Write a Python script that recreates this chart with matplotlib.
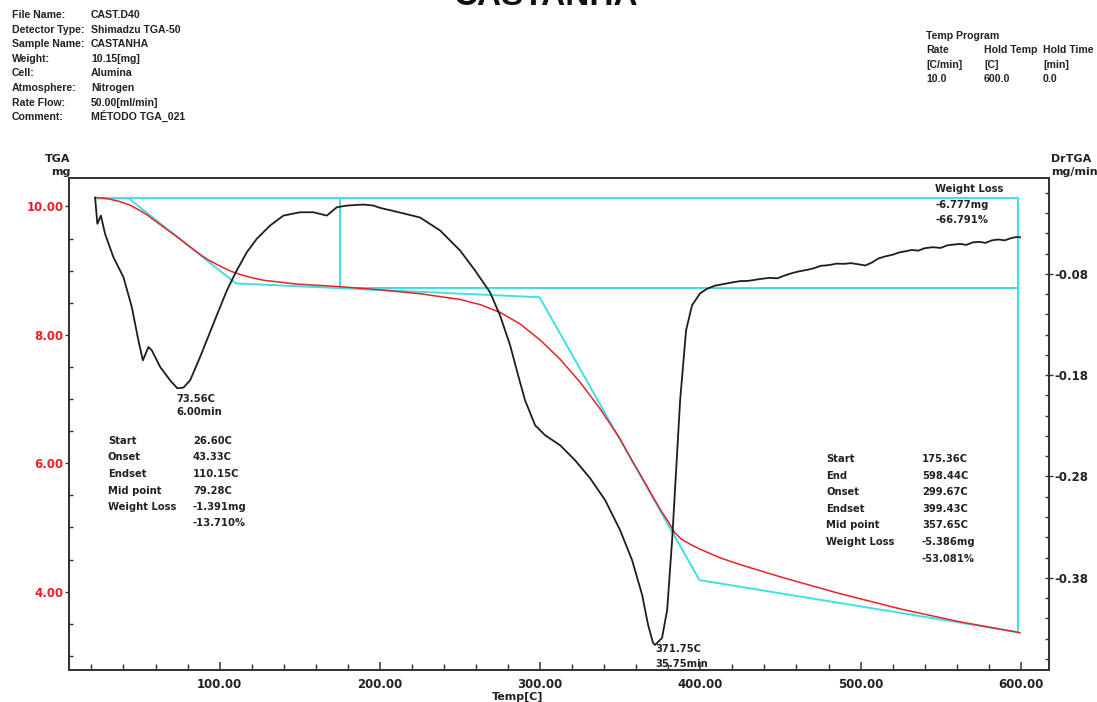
import matplotlib
matplotlib.use("Agg")
import matplotlib.pyplot as plt
from matplotlib.ticker import FixedLocator, MultipleLocator

# ---------------- data ----------------
# DrTGA (black) : temperature [C] and derivative [mg/min]
dr_temp = [22.3, 23.7, 25.9, 28.5, 33.7, 40.0, 45.2, 49.3, 52.1, 55.6, 57.7, 62.9, 69.1,
           73.6, 77.4, 81.6, 87.8, 96.1, 104.5, 110.7, 117.0, 123.2, 131.5, 139.8, 150.2,
           158.5, 166.9, 173.1, 179.4, 189.7, 196.0, 200.2, 212.6, 225.1, 237.6, 250.1,
           259.4, 268.8, 275.0, 281.3, 286.3, 290.6, 296.9, 303.1, 312.5, 321.8, 331.2,
           340.6, 349.9, 357.4, 363.7, 367.4, 370.5, 371.75, 376.1, 379.3, 382.4, 384.9,
           387.4, 391.1, 394.8, 399.8, 404, 409, 415, 420, 425, 430, 436, 443, 448, 453,
           458, 462, 467, 471, 475, 480, 485, 490, 494, 498, 503, 507, 511, 515, 520, 524,
           528, 532, 536, 540, 545, 550, 554, 558, 562, 566, 570, 574, 578, 582, 586, 590,
           594, 597, 599.5]
dr_val = [-0.005, -0.0307, -0.0226, -0.0406, -0.0636, -0.0834, -0.1129, -0.1457, -0.1654,
          -0.1523, -0.1556, -0.172, -0.1851, -0.193, -0.1923, -0.1851, -0.1622, -0.1293,
          -0.0965, -0.0767, -0.0587, -0.0455, -0.0324, -0.0226, -0.0193, -0.0193, -0.0226,
          -0.0144, -0.0127, -0.0117, -0.0127, -0.0150, -0.0196, -0.0245, -0.0373, -0.0571,
          -0.0767, -0.0984, -0.1211, -0.1506, -0.1802, -0.2048, -0.2295, -0.2393, -0.2492,
          -0.2640, -0.2817, -0.3034, -0.3329, -0.3625, -0.3970, -0.4265, -0.4443, -0.4463,
          -0.4394, -0.4118, -0.3428, -0.2738, -0.2048, -0.1359, -0.1112, -0.0994, -0.0950,
          -0.0918, -0.0900, -0.0885, -0.0872, -0.0870, -0.0855, -0.0840, -0.0845, -0.0815,
          -0.0790, -0.0775, -0.0760, -0.0745, -0.0722, -0.0715, -0.0700, -0.0702, -0.0695,
          -0.0705, -0.0718, -0.0690, -0.0650, -0.0630, -0.0612, -0.0590, -0.0578, -0.0565,
          -0.0572, -0.0548, -0.0538, -0.0545, -0.0520, -0.0512, -0.0505, -0.0515, -0.0490,
          -0.0485, -0.0495, -0.0470, -0.0462, -0.0470, -0.0448, -0.0438, -0.0440]

# TGA (red) : temperature [C] and mass [mg]
tga_temp = [22.3, 30.0, 37.0, 44.1, 50.0, 54.6, 60.0, 66.0, 73.56, 80.0, 85.8, 92.0,
            100.3, 107.0, 112.8, 120.0, 127.3, 148.2, 175.2, 200.2, 225.1, 250.1, 262.6,
            275.0, 287.5, 300.0, 312.5, 325.0, 337.4, 349.9, 357.65, 362.4, 371.75, 376.0,
            380.0, 384.0, 388.0, 395.0, 400.0, 412.0, 425.0, 450.0, 487.0, 525.0, 562.0,
            599.5]
tga_mass = [10.14, 10.12, 10.08, 10.02, 9.94, 9.87, 9.77, 9.66, 9.525, 9.40, 9.29, 9.18,
            9.07, 8.99, 8.94, 8.89, 8.85, 8.79, 8.75, 8.70, 8.64, 8.55, 8.47, 8.35, 8.17,
            7.92, 7.62, 7.26, 6.85, 6.38, 6.03, 5.83, 5.42, 5.24, 5.09, 4.92, 4.82, 4.72,
            4.66, 4.53, 4.42, 4.23, 3.97, 3.73, 3.53, 3.36]

# analysis construction lines (cyan)
step_temp = [22.3, 43.33, 110.15, 299.67, 399.43, 598.44]
step_mass = [10.124, 10.124, 8.80, 8.585, 4.18, 3.37]
top_mass = 10.124
loss_start_t, loss_end_t = 175.36, 598.44
loss_level = 8.725
end_mass = 3.37

x_major = [100, 200, 300, 400, 500, 600]
x_labels = ["100.00", "200.00", "300.00", "400.00", "500.00", "600.00"]
yl_major = [4, 6, 8, 10]
yl_labels = ["4.00", "6.00", "8.00", "10.00"]
yr_major = [-0.38, -0.28, -0.18, -0.08]
yr_labels = ["-0.38", "-0.28", "-0.18", "-0.08"]

header_keys = ["File Name:", "Detector Type:", "Sample Name:", "Weight:", "Cell:",
               "Atmosphere:", "Rate Flow:", "Comment:"]
header_vals = ["CAST.D40", "Shimadzu TGA-50", "CASTANHA", "10.15[mg]", "Alumina",
               "Nitrogen", "50.00[ml/min]", "MÉTODO TGA_021"]
prog_cols = [["Temp Program", "Rate", "[C/min]", "10.0"],
             ["", "Hold Temp", "[C]", "600.0"],
             ["", "Hold Time", "[min]", "0.0"]]

left_tbl_keys = ["Start", "Onset", "Endset", "Mid point", "Weight Loss", ""]
left_tbl_vals = ["26.60C", "43.33C", "110.15C", "79.28C", "-1.391mg", "-13.710%"]
right_tbl_keys = ["Start", "End", "Onset", "Endset", "Mid point", "Weight Loss", ""]
right_tbl_vals = ["175.36C", "598.44C", "299.67C", "399.43C", "357.65C", "-5.386mg",
                  "-53.081%"]

# ---------------- figure ----------------
W, H = 1097, 702
fig = plt.figure(figsize=(W / 100, H / 100), dpi=100)
fig.patch.set_facecolor("white")

def fx(px):
    return px / W

def fy(py):
    return 1 - py / H

ax = fig.add_axes([fx(69), fy(670), fx(1049) - fx(69), fy(177.5) - fy(670)])
ax2 = ax.twinx()

RED = "#e8212a"
CYAN = "#3fe0e4"
BLK = "#1e1e1e"
AX = "#333333"

ax.set_xlim(6.0, 617.6)
ax.set_ylim(2.78, 10.45)
ax2.set_ylim(-0.471, 0.015)

# curves
ax.plot(step_temp, step_mass, color=CYAN, lw=1.4, zorder=2)
ax.plot([step_temp[0], loss_end_t], [top_mass, top_mass], color=CYAN, lw=1.4, zorder=2)
ax.plot([loss_start_t, loss_start_t], [top_mass, loss_level], color=CYAN, lw=1.4, zorder=2)
ax.plot([loss_start_t, loss_end_t], [loss_level, loss_level], color=CYAN, lw=1.4, zorder=2)
ax.plot([loss_end_t, loss_end_t], [top_mass, end_mass], color=CYAN, lw=1.4, zorder=2)
ax.plot(tga_temp, tga_mass, color=RED, lw=1.1, zorder=3)
ax2.plot(dr_temp, dr_val, color=BLK, lw=1.3, zorder=4)

# axes styling
for a in (ax, ax2):
    for s in a.spines.values():
        s.set_color(AX)
        s.set_linewidth(1.3)

ax.xaxis.set_major_locator(FixedLocator(x_major))
ax.set_xticklabels(x_labels)
ax.xaxis.set_minor_locator(MultipleLocator(20))
ax.tick_params(axis="x", which="major", direction="in", length=6, width=1.1, color=AX,
               pad=6, labelsize=8.5, labelcolor="#222222")
ax.tick_params(axis="x", which="minor", direction="in", length=4, width=1.0, color=AX)

ax.yaxis.set_major_locator(FixedLocator(yl_major))
ax.set_yticklabels(yl_labels)
ax.yaxis.set_minor_locator(MultipleLocator(0.5))
ax.tick_params(axis="y", which="major", direction="out", length=3, width=1.0, color=AX,
               pad=1, labelsize=8.5, labelcolor=RED)
ax.tick_params(axis="y", which="minor", direction="in", length=3, width=1.0, color=AX)

ax2.yaxis.set_major_locator(FixedLocator(yr_major))
ax2.set_yticklabels(yr_labels)
ax2.yaxis.set_minor_locator(MultipleLocator(0.02))
ax2.tick_params(axis="y", which="major", direction="inout", length=6, width=1.0, color=AX,
                pad=1, labelsize=8.5, labelcolor="#222222")
ax2.tick_params(axis="y", which="minor", direction="in", length=3, width=1.0, color=AX)

for lab in ax.get_xticklabels() + ax.get_yticklabels() + ax2.get_yticklabels():
    lab.set_fontweight("bold")
    lab.set_family("DejaVu Sans")

# axis titles
lab_kw = dict(fontsize=8, weight="bold", family="DejaVu Sans", color="#222222")
fig.text(fx(70), fy(162), "TGA", ha="right", va="baseline", **lab_kw)
fig.text(fx(70), fy(175), "mg", ha="right", va="baseline", **lab_kw)
fig.text(fx(1051), fy(162), "DrTGA", ha="left", va="baseline", **lab_kw)
fig.text(fx(1051), fy(175), "mg/min", ha="left", va="baseline", **lab_kw)
fig.text(fx(518), fy(700), "Temp[C]", ha="center", va="baseline", **lab_kw)

# title (clipped at top as in the original)
fig.text(fx(546), fy(5.0), "CASTANHA", ha="center", va="baseline", fontsize=24,
         weight="bold", family="Liberation Sans", color="#111111")

# header block
hdr_kw = dict(fontsize=7.6, weight="bold", family="Liberation Sans", color="#222222",
              va="baseline")
for i, (k, v) in enumerate(zip(header_keys, header_vals)):
    y = 18 + i * 14.6
    fig.text(fx(12), fy(y), k, ha="left", **hdr_kw)
    fig.text(fx(91), fy(y), v, ha="left", **hdr_kw)

prog_x = [926, 984, 1043]
for cx, col in zip(prog_x, prog_cols):
    for j, t in enumerate(col):
        if t:
            fig.text(fx(cx), fy(39 + j * 14.3), t, ha="left", **hdr_kw)

# annotation text
ann_kw = dict(fontsize=7.2, weight="bold", family="DejaVu Sans", color="#222222",
              va="baseline")
fig.text(fx(176), fy(402), "73.56C", ha="left", **ann_kw)
fig.text(fx(176), fy(415), "6.00min", ha="left", **ann_kw)
fig.text(fx(655), fy(652), "371.75C", ha="left", **ann_kw)
fig.text(fx(655), fy(667), "35.75min", ha="left", **ann_kw)

for i, (k, v) in enumerate(zip(left_tbl_keys, left_tbl_vals)):
    y = 444 + i * 16.5
    if k:
        fig.text(fx(108), fy(y), k, ha="left", **ann_kw)
    fig.text(fx(193), fy(y), v, ha="left", **ann_kw)

for i, (k, v) in enumerate(zip(right_tbl_keys, right_tbl_vals)):
    y = 462 + i * 16.6
    if k:
        fig.text(fx(826), fy(y), k, ha="left", **ann_kw)
    fig.text(fx(922), fy(y), v, ha="left", **ann_kw)

fig.text(fx(935), fy(192), "Weight Loss", ha="left", **ann_kw)
fig.text(fx(935), fy(208), "-6.777mg", ha="left", **ann_kw)
fig.text(fx(935), fy(223), "-66.791%", ha="left", **ann_kw)

fig.savefig("out.png", dpi=100, facecolor="white")
